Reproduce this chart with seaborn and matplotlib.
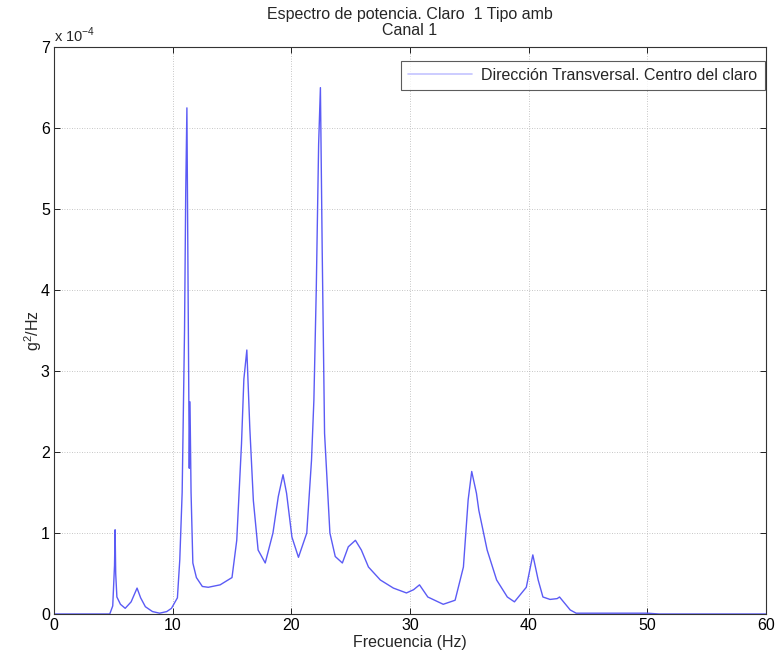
import matplotlib
matplotlib.use("Agg")
import matplotlib.pyplot as plt
import seaborn as sns
import pandas as pd

# Data (values in units of 1e-4 g^2/Hz)
freq = [0, 4.7, 4.95, 5.1, 5.15, 5.2, 5.3, 5.6, 6.0, 6.5, 7.0, 7.3, 7.7, 8.3, 8.9,
        9.5, 9.9, 10.4, 10.6, 10.8, 11.0, 11.1, 11.2, 11.3, 11.4, 11.46, 11.55, 11.7,
        12.0, 12.5, 13.0, 14.0, 15.0, 15.4, 15.8, 16.0, 16.25, 16.5, 16.8, 17.2, 17.8,
        18.45, 18.9, 19.3, 19.6, 20.05, 20.6, 21.3, 21.7, 21.9, 22.1, 22.3, 22.45, 22.6,
        22.8, 23.25, 23.7, 24.3, 24.8, 25.4, 25.9, 26.5, 27.5, 28.6, 29.7, 30.3, 30.8,
        31.5, 32.8, 33.8, 34.5, 34.9, 35.2, 35.6, 35.8, 36.5, 37.3, 38.2, 38.8, 39.8,
        40.35, 40.8, 41.2, 41.8, 42.4, 42.6, 43.5, 44.0, 47.0, 50.0, 51.0, 60.0]
psd = [0, 0, 0.1, 0.6, 1.04, 0.5, 0.21, 0.12, 0.07, 0.15, 0.32, 0.2, 0.09, 0.03, 0.01,
       0.03, 0.07, 0.2, 0.67, 1.5, 3.5, 5.2, 6.25, 4.0, 1.8, 2.62, 1.5, 0.63,
       0.45, 0.34, 0.33, 0.36, 0.45, 0.91, 2.1, 2.9, 3.26, 2.3, 1.4, 0.79, 0.63,
       1.0, 1.45, 1.72, 1.49, 0.95, 0.70, 1.0, 1.9, 2.64, 4.0, 5.8, 6.5, 4.5,
       2.23, 1.0, 0.71, 0.63, 0.83, 0.91, 0.79, 0.58, 0.42, 0.32, 0.26, 0.3, 0.36,
       0.21, 0.12, 0.17, 0.58, 1.41, 1.76, 1.49, 1.28, 0.79, 0.42, 0.21, 0.15, 0.33,
       0.73, 0.42, 0.21, 0.18, 0.19, 0.21, 0.05, 0.01, 0.01, 0.01, 0.0, 0.0]
x_ticks = [0, 10, 20, 30, 40, 50, 60]
y_ticks = [0, 1, 2, 3, 4, 5, 6, 7]
series_name = "Dirección Transversal. Centro del claro"

df = pd.DataFrame({"Frecuencia": freq, "PSD": psd, "serie": series_name})

sns.set_theme(style="white")
plt.rcParams["font.family"] = ["Liberation Sans", "DejaVu Sans"]
plt.rcParams["mathtext.fontset"] = "custom"
plt.rcParams["mathtext.rm"] = "Liberation Sans"

FS = 11.5

fig = plt.figure(figsize=(7.78, 6.64), dpi=100)
ax = fig.add_axes([0.0694, 0.0753, 0.9152, 0.8537])

sns.lineplot(data=df, x="Frecuencia", y="PSD", hue="serie", palette=["#5b5bf5"],
             estimator=None, sort=False, linewidth=1.0, ax=ax)

ax.set_xlim(0, 60)
ax.set_ylim(0, 7)
ax.set_xticks(x_ticks)
ax.set_yticks(y_ticks)
ax.set_xticklabels([str(t) for t in x_ticks], fontsize=FS)
ax.set_yticklabels([str(t) for t in y_ticks], fontsize=FS)
ax.tick_params(direction="in", length=4, width=0.6, colors="black", top=True, right=True,
               bottom=True, left=True, pad=3)
ax.grid(True, linestyle=(0, (1, 2)), color="#b4b4b4", linewidth=0.6)
for s in ax.spines.values():
    s.set_color("#333333")
    s.set_linewidth(0.8)

ax.set_xlabel("Frecuencia (Hz)", fontsize=FS, labelpad=1)
ax.set_ylabel("g$^2$/Hz", fontsize=FS, labelpad=-2)
ax.set_title("Espectro de potencia. Claro  1 Tipo amb\nCanal 1", fontsize=FS,
             linespacing=1.05, pad=9)
ax.text(0.0, 1.004, r"x 10$^{-4}$", transform=ax.transAxes, fontsize=FS - 1,
        ha="left", va="bottom")

leg = ax.legend(loc="upper right", bbox_to_anchor=(0.998, 0.976), fontsize=FS,
                frameon=True, fancybox=False, handlelength=4.0, borderpad=0.45,
                handletextpad=0.6, borderaxespad=0.0)
leg.get_frame().set_edgecolor("#333333")
leg.get_frame().set_linewidth(0.8)
leg.get_lines()[0].set_color("#c4c4ff")
leg.get_lines()[0].set_linewidth(1.2)

fig.savefig("out.png", dpi=100)
